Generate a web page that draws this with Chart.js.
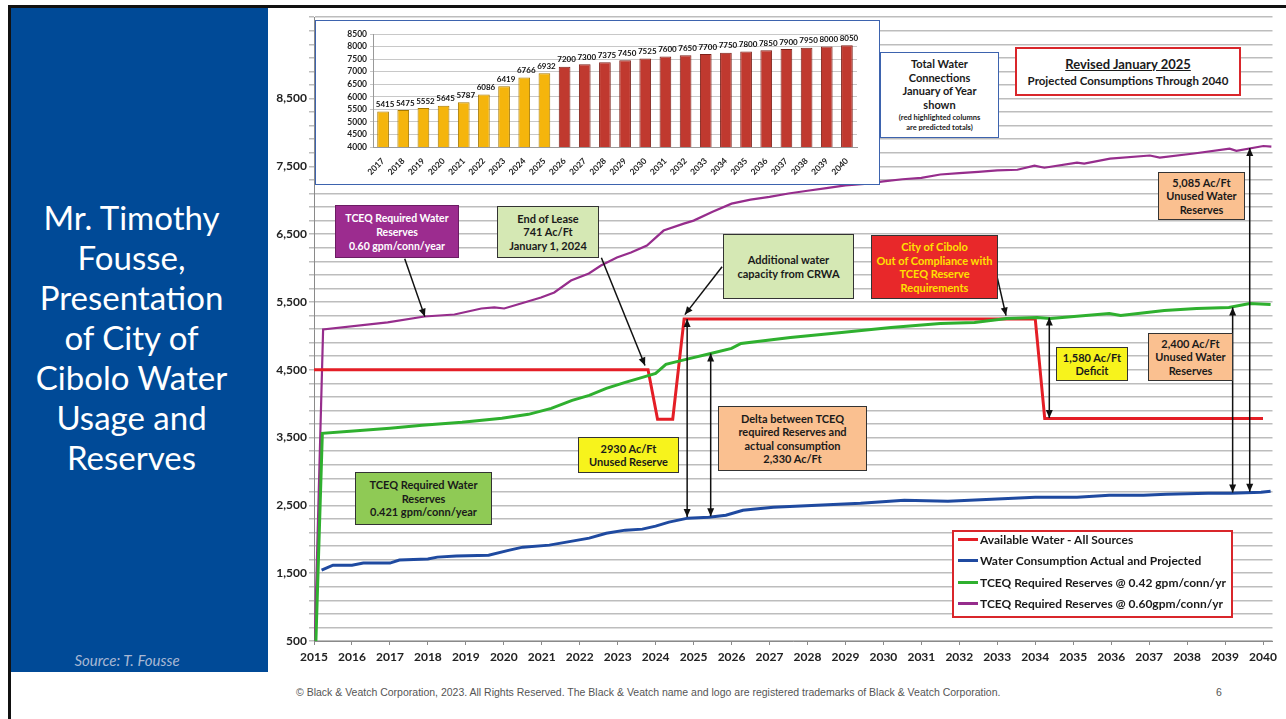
<!DOCTYPE html>
<html><head><meta charset="utf-8">
<script src="https://cdn.jsdelivr.net/npm/chart.js@4.4.1/dist/chart.umd.min.js"></script>
<style>
html,body{margin:0;padding:0;background:#fff;width:1286px;height:719px;overflow:hidden;font-family:Lato,"Open Sans",sans-serif;}
.abs{position:absolute;}
#topline{left:8px;top:5px;width:1278px;height:3px;background:#111;}
#leftline{left:8px;top:5px;width:3px;height:714px;background:#111;}
#panel{left:11px;top:8px;width:257px;height:664px;background:#004a97;}
#title{left:11px;top:197px;width:241px;text-align:center;color:#fff;font:33px/40px Lato,sans-serif;}
#source{left:11px;top:651px;width:232px;text-align:center;color:#a8b8d4;font:italic 15px Lato,sans-serif;}
#mainWrap{left:268px;top:8px;width:1014px;height:664px;}
#insetBox{left:315px;top:20px;width:565px;height:165px;box-sizing:border-box;border:1.5px solid #3d63ae;background:#fff;}
#insetWrap{left:316px;top:21px;width:563px;height:163px;}
.box{position:absolute;box-sizing:border-box;display:flex;flex-direction:column;justify-content:center;text-align:center;font:bold 11px/13.5px Lato,sans-serif;color:#1a1a1a;border:1.5px solid #333;}
#legend{left:952px;top:530px;width:281px;height:88px;box-sizing:border-box;border:2px solid #d9262b;background:#fff;}
#legendInner{position:absolute;left:0;top:-3px;}
.lg{height:21.3px;display:flex;align-items:center;font:bold 12px Lato,sans-serif;color:#1a1a1a;}
.lg span.sw{display:inline-block;width:20px;height:3px;margin:0 2px 0 4px;}
#footer{left:296px;top:686px;font:10.5px "Liberation Sans",Arial,sans-serif;color:#555;white-space:nowrap;}
#pageno{left:1216px;top:686px;font:10.5px "Liberation Sans",Arial,sans-serif;color:#555;}
</style></head>
<body>
<div class="abs" id="panel"></div>
<div class="abs" id="topline"></div>
<div class="abs" id="leftline"></div>
<div class="abs" id="title">Mr. Timothy<br>Fousse,<br>Presentation<br>of City of<br>Cibolo Water<br>Usage and<br>Reserves</div>
<div class="abs" id="source">Source: T. Fousse</div>

<div class="abs" id="mainWrap"><canvas id="main" width="1014" height="664"></canvas></div>

<div class="abs" id="insetBox"></div>
<div class="abs" id="insetWrap"><canvas id="inset" width="563" height="163"></canvas></div>

<div class="box" style="left:880px;top:52px;width:119px;height:86px;border-color:#3d63ae;background:#fff;">
  <div>Total Water<br>Connections<br>January of Year<br>shown</div>
  <div style="font-size:7.5px;line-height:10px;margin-top:2px;">(red highlighted columns<br>are predicted totals)</div>
</div>
<div class="box" style="left:1015px;top:47px;width:226px;height:49px;border:2px solid #d9262b;background:#fff;">
  <div style="font-size:13px;line-height:17px;text-decoration:underline;">Revised January 2025</div>
  <div style="font-size:11.5px;line-height:15px;">Projected Consumptions Through 2040</div>
</div>
<div class="box" style="left:335px;top:205px;width:124px;height:53px;background:#9c2c8f;color:#fff;border-color:#6b1c63;font-size:10.5px;line-height:14px;">TCEQ Required Water<br>Reserves<br>0.60 gpm/conn/year</div>
<div class="box" style="left:497px;top:206px;width:102px;height:52px;background:#d5e8b4;">End of Lease<br>741 Ac/Ft<br>January 1, 2024</div>
<div class="box" style="left:723px;top:234px;width:131px;height:65px;background:#d5e8b4;">Additional water<br>capacity from CRWA</div>
<div class="box" style="left:871px;top:235px;width:127px;height:64px;background:#e8282a;color:#ffe000;">City of Cibolo<br>Out of Compliance with<br>TCEQ Reserve<br>Requirements</div>
<div class="box" style="left:1158px;top:172px;width:87px;height:48px;background:#fac090;">5,085 Ac/Ft<br>Unused Water<br>Reserves</div>
<div class="box" style="left:1056px;top:347px;width:72px;height:34px;background:#f7f31c;">1,580 Ac/Ft<br>Deficit</div>
<div class="box" style="left:1148px;top:333px;width:85px;height:48px;background:#fac090;">2,400 Ac/Ft<br>Unused Water<br>Reserves</div>
<div class="box" style="left:578px;top:437px;width:101px;height:36px;background:#f7f31c;">2930 Ac/Ft<br>Unused Reserve</div>
<div class="box" style="left:718px;top:406px;width:149px;height:65px;background:#fac090;">Delta between TCEQ<br>required Reserves and<br>actual consumption<br>2,330 Ac/Ft</div>
<div class="box" style="left:355px;top:472px;width:137px;height:53px;background:#8fca55;">TCEQ Required Water<br>Reserves<br>0.421 gpm/conn/year</div>

<div class="abs" id="legend"><div id="legendInner"></div></div>

<div class="abs" id="footer">© Black &amp; Veatch Corporation, 2023. All Rights Reserved. The Black &amp; Veatch name and logo are registered trademarks of Black &amp; Veatch Corporation.</div>
<div class="abs" id="pageno">6</div>

<script>
// ---------- data ----------
const xTickYears = [2015,2016,2017,2018,2019,2020,2021,2022,2023,2024,2025,2026,2027,2028,2029,2030,2031,2032,2033,2034,2035,2036,2037,2038,2039,2040];
const yLabelValues = [500,1500,2500,3500,4500,5500,6500,7500,8500];

const availYears  = [2015, 2023.8, 2024.05, 2024.45, 2024.75, 2034.0, 2034.25, 2040.0];
const availValues = [4500, 4500, 3770, 3770, 5250, 5250, 3780, 3780];

const consYears  = [2015.2,2015.5,2016.0,2016.3,2017.0,2017.25,2018.0,2018.25,2018.75,2019.6,2020.15,2020.5,2021.2,2021.65,2022.25,2022.7,2023.2,2023.65,2024.0,2024.35,2024.85,2025.4,2025.85,2026.3,2027.1,2028.25,2029.4,2030.55,2031.7,2032.85,2034.0,2035.1,2035.95,2036.85,2037.45,2038.55,2039.15,2039.95,2040.2];
const consValues = [1546,1619,1619,1649,1649,1693,1708,1737,1752,1766,1840,1884,1914,1958,2017,2090,2135,2150,2194,2253,2312,2326,2356,2429,2473,2503,2532,2577,2562,2591,2621,2621,2650,2650,2665,2680,2680,2694,2709];

const res42Years  = [2015.05,2015.22,2015.95,2017.0,2017.85,2018.9,2019.95,2020.65,2021.25,2021.8,2022.25,2022.7,2023.2,2023.65,2024.0,2024.27,2024.8,2025.45,2026.0,2026.25,2027.55,2028.9,2030.2,2031.5,2032.4,2033.25,2034.05,2034.4,2035.95,2036.25,2037.4,2038.25,2039.1,2039.65,2040.2];
const res42Values = [500,3563,3593,3637,3681,3725,3784,3843,3931,4049,4123,4226,4314,4388,4447,4580,4653,4741,4815,4889,4977,5050,5124,5183,5198,5257,5272,5257,5330,5301,5375,5404,5419,5478,5463];

const res60Years  = [2015.02,2015.24,2016.94,2017.91,2018.7,2019.41,2019.75,2020.01,2020.54,2020.98,2021.33,2021.77,2022.24,2022.56,2022.98,2023.35,2023.77,2024.21,2024.74,2025.0,2025.5,2026.0,2026.5,2027.0,2027.5,2028.0,2028.5,2029.0,2029.5,2030.0,2030.5,2031.0,2031.5,2032.0,2032.5,2033.0,2033.53,2033.98,2034.24,2035.1,2035.29,2035.97,2037.02,2037.28,2038.18,2039.12,2039.3,2040.01,2040.22];
const res60Values = [500,5095,5200,5286,5315,5404,5420,5404,5493,5566,5640,5817,5920,6037,6155,6229,6332,6553,6656,6700,6830,6950,7010,7050,7100,7140,7180,7220,7240,7280,7310,7330,7380,7400,7420,7440,7450,7510,7480,7555,7540,7614,7660,7630,7690,7760,7730,7800,7790];

const seriesLabels = ['Available Water - All Sources','Water Consumption Actual and Projected','TCEQ Required Reserves @ 0.42 gpm/conn/yr','TCEQ Required Reserves @ 0.60gpm/conn/yr'];

const connYears  = ['2017','2018','2019','2020','2021','2022','2023','2024','2025','2026','2027','2028','2029','2030','2031','2032','2033','2034','2035','2036','2037','2038','2039','2040'];
const connValues = [5415,5475,5552,5645,5787,6086,6419,6766,6932,7200,7300,7375,7450,7525,7600,7650,7700,7750,7800,7850,7900,7950,8000,8050];
const firstPredictedYear = 2026;

// annotation arrows in data units [year, value]
const arrows = [
  {from:[2017.39,6138], to:[2017.92,5284], both:false},
  {from:[2022.57,6153], to:[2023.72,4563], both:false},
  {from:[2025.75,6020], to:[2024.77,5314], both:false},
  {from:[2032.97,5932], to:[2033.23,5299], both:false},
  {from:[2024.83,2330], to:[2024.83,5250], both:true},
  {from:[2025.45,2340], to:[2025.45,4741], both:true},
  {from:[2034.37,3790], to:[2034.37,5270], both:true},
  {from:[2039.2,2690],  to:[2039.2,5420],  both:true},
  {from:[2039.65,2700], to:[2039.65,7770], both:true}
];

// ---------- main chart ----------
const colors = ['#e41e26','#1f4aa0','#2fb02f','#962d8c'];
const widths = [3,3,3,2.2];
const pairs = (xs, ys) => xs.map((x,i)=>({x:x, y:ys[i]}));
const seriesData = [pairs(availYears,availValues), pairs(consYears,consValues), pairs(res42Years,res42Values), pairs(res60Years,res60Values)];
const drawOrder = [1,2,0,3];

function arrowHead(ctx, x1, y1, x2, y2){
  const a = Math.atan2(y2-y1, x2-x1), L = 8, W = 3.5;
  ctx.beginPath();
  ctx.moveTo(x2, y2);
  ctx.lineTo(x2 - L*Math.cos(a) + W*Math.sin(a), y2 - L*Math.sin(a) - W*Math.cos(a));
  ctx.lineTo(x2 - L*Math.cos(a) - W*Math.sin(a), y2 - L*Math.sin(a) + W*Math.cos(a));
  ctx.closePath(); ctx.fill();
}
const arrowPlugin = {
  id:'arrows',
  afterDraw(chart){
    const ctx = chart.ctx, xs = chart.scales.x, ys = chart.scales.y;
    ctx.save();
    ctx.strokeStyle = '#111'; ctx.fillStyle = '#111'; ctx.lineWidth = 1.5;
    arrows.forEach(a=>{
      const x1 = xs.getPixelForValue(a.from[0]), y1 = ys.getPixelForValue(a.from[1]);
      const x2 = xs.getPixelForValue(a.to[0]), y2 = ys.getPixelForValue(a.to[1]);
      ctx.beginPath(); ctx.moveTo(x1,y1); ctx.lineTo(x2,y2); ctx.stroke();
      arrowHead(ctx, x1, y1, x2, y2);
      if (a.both) arrowHead(ctx, x2, y2, x1, y1);
    });
    ctx.restore();
  }
};

new Chart(document.getElementById('main'), {
  type:'line',
  data:{ datasets: seriesLabels.map((lab,i)=>({
    label:lab, data:seriesData[i], borderColor:colors[i], backgroundColor:colors[i],
    borderWidth:widths[i], pointRadius:0, tension:0, fill:false, order:drawOrder[i]
  }))},
  options:{
    responsive:false, animation:false,
    layout:{padding:{top:8,right:7,left:0,bottom:0}},
    plugins:{legend:{display:false}, tooltip:{enabled:false}},
    scales:{
      x:{type:'linear', min:2015, max:2040.25,
        afterBuildTicks:s=>{ s.ticks = xTickYears.map(v=>({value:v})); },
        afterFit:s=>{ s.height = 31; },
        grid:{display:true, drawOnChartArea:false, drawTicks:true, tickLength:4, color:'#8a8a8a'},
        border:{display:true, color:'#8a8a8a', width:1},
        ticks:{font:{family:'Lato', weight:'bold', size:12}, color:'#222', padding:5, maxRotation:0, autoSkip:false, callback:v=>String(v)}
      },
      y:{min:500, max:9700,
        afterFit:s=>{ s.width = 46; },
        grid:{color:'#bdbdbd', lineWidth:1.5, tickLength:5},
        border:{display:true, color:'#8a8a8a', width:1},
        ticks:{stepSize:200, autoSkip:false, padding:2, font:{family:'Lato', weight:'bold', size:12}, color:'#222',
          callback:v=> yLabelValues.includes(v) ? v.toLocaleString('en-US') : ''}
      }
    }
  },
  plugins:[arrowPlugin]
});

// HTML legend built from the series labels
const lg = document.getElementById('legendInner');
seriesLabels.forEach((lab,i)=>{
  const d = document.createElement('div'); d.className='lg';
  const sw = document.createElement('span'); sw.className='sw'; sw.style.background=colors[i];
  d.appendChild(sw); d.appendChild(document.createTextNode(lab)); lg.appendChild(d);
});

// ---------- inset bar chart ----------
const valueLabelPlugin = {
  id:'valueLabels',
  afterDatasetsDraw(chart){
    const ctx = chart.ctx, meta = chart.getDatasetMeta(0);
    ctx.save();
    ctx.font = 'bold 8px Lato'; ctx.fillStyle = '#111'; ctx.textAlign='center'; ctx.textBaseline='bottom';
    meta.data.forEach((el,i)=>{ ctx.fillText(String(connValues[i]), el.x + 2, el.y - 3); });
    ctx.restore();
  }
};
new Chart(document.getElementById('inset'), {
  type:'bar',
  data:{ labels:connYears, datasets:[{
    data:connValues,
    backgroundColor: connYears.map(y=> Number(y) >= firstPredictedYear ? '#c0392f' : '#f5b50c'),
    borderColor: connYears.map(y=> Number(y) >= firstPredictedYear ? '#7d2019' : '#a87a00'),
    borderWidth:1, barPercentage:0.58, categoryPercentage:1
  }]},
  options:{
    responsive:false, animation:false,
    layout:{padding:{top:13,right:22,left:0,bottom:0}},
    plugins:{legend:{display:false}, tooltip:{enabled:false}},
    scales:{
      x:{afterFit:s=>{ s.height = 37; },
        grid:{display:false}, border:{display:true, color:'#999'},
        ticks:{font:{family:'Lato', weight:'bold', size:8.5}, color:'#222', maxRotation:45, minRotation:45, autoSkip:false, padding:1}
      },
      y:{min:4000, max:8500, afterFit:s=>{ s.width = 57; },
        grid:{color:'#c8c8c8', lineWidth:1, tickLength:3},
        border:{display:true, color:'#999'},
        ticks:{stepSize:500, autoSkip:false, padding:3, font:{family:'Lato', weight:'bold', size:8.5}, color:'#222', callback:v=>String(v)}
      }
    }
  },
  plugins:[valueLabelPlugin]
});
</script>
</body></html>
